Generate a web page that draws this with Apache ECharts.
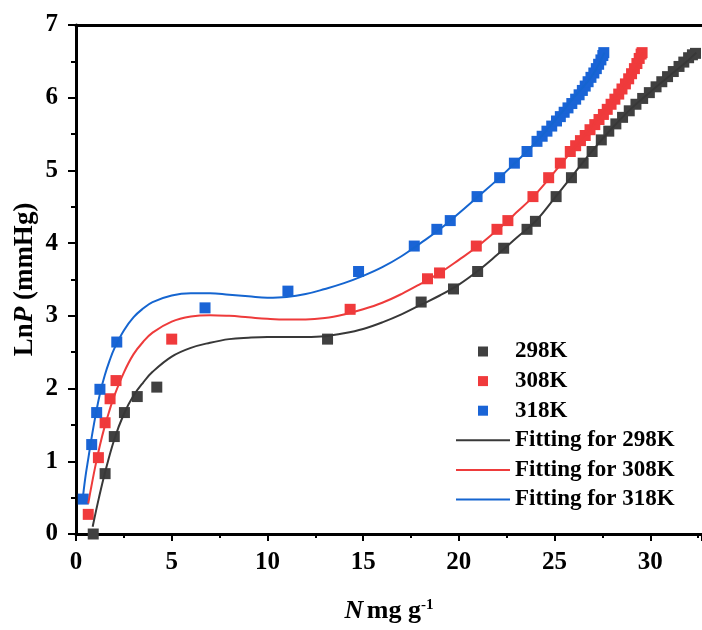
<!DOCTYPE html>
<html>
<head>
<meta charset="utf-8">
<script src="https://cdn.jsdelivr.net/npm/echarts@6/dist/echarts.min.js"></script>
<style>html,body{margin:0;padding:0;background:#fff;}#c{width:702px;height:630px;}</style>
</head>
<body>
<div id="c"></div>
<script>
// Experimental points
const n298 = [0.9,1.52,2.0,2.53,3.2,4.22,13.14,18.03,19.72,20.98,22.34,23.56,24.0,25.08,25.88,26.49,26.96,27.44,27.83,28.2,28.55,28.9,29.25,29.6,29.95,30.3,30.6,30.9,31.2,31.5,31.75,32.0,32.2,32.36];
const lnp298 = [0.0,0.83,1.34,1.67,1.89,2.02,2.68,3.19,3.37,3.61,3.93,4.19,4.30,4.64,4.90,5.10,5.26,5.42,5.54,5.64,5.73,5.82,5.91,5.99,6.07,6.15,6.22,6.29,6.36,6.43,6.49,6.55,6.59,6.61];
const n308 = [0.64,1.17,1.52,1.78,2.09,5.0,14.32,18.36,18.99,20.91,21.99,22.56,23.87,24.69,25.3,25.82,26.1,26.35,26.6,26.85,27.1,27.32,27.55,27.75,27.95,28.15,28.35,28.52,28.7,28.87,29.02,29.17,29.3,29.42,29.52,29.57];
const lnp308 = [0.27,1.05,1.53,1.86,2.11,2.68,3.09,3.51,3.59,3.96,4.19,4.31,4.64,4.90,5.10,5.26,5.34,5.41,5.48,5.56,5.63,5.70,5.77,5.84,5.91,5.98,6.05,6.12,6.19,6.26,6.33,6.40,6.47,6.54,6.60,6.62];
const n318 = [0.38,0.82,1.08,1.25,2.13,6.74,11.07,14.76,17.67,18.85,19.55,20.95,22.13,22.9,23.56,24.08,24.35,24.6,24.85,25.1,25.3,25.5,25.7,25.9,26.1,26.28,26.45,26.6,26.75,26.9,27.05,27.18,27.3,27.42,27.52,27.57];
const lnp318 = [0.48,1.23,1.67,1.99,2.64,3.11,3.34,3.61,3.96,4.19,4.31,4.64,4.90,5.10,5.26,5.40,5.47,5.54,5.61,5.68,5.74,5.80,5.86,5.92,5.98,6.04,6.10,6.16,6.22,6.28,6.34,6.40,6.46,6.52,6.58,6.62];

// Fitting curves
const fitN298 = [0.87,1.2,1.52,2.0,2.5,3.0,3.5,4.0,5,6,7,8,9,10,11,12,13,14,15,16,17,18,19,20,21,22,23,24,25,26,27,28,29,30,31,32,32.4];
const fitL298 = [0.1,0.5,0.85,1.3,1.65,1.9,2.08,2.23,2.44,2.56,2.63,2.68,2.70,2.71,2.71,2.71,2.72,2.76,2.82,2.91,3.02,3.15,3.28,3.43,3.62,3.84,4.07,4.30,4.62,4.95,5.28,5.58,5.85,6.08,6.3,6.52,6.62];
const fitN308 = [0.64,0.8,1.0,1.25,1.5,1.75,2.0,2.5,3,3.5,4,5,6,7,8,9,10,11,12,13,14,15,16,17,18,19,20,21,22,23,24,25,26,27,28,29,29.6];
const fitL308 = [0.42,0.65,0.92,1.22,1.48,1.7,1.9,2.22,2.47,2.64,2.77,2.92,2.99,3.01,3.0,2.98,2.96,2.95,2.95,2.97,3.02,3.09,3.18,3.3,3.44,3.59,3.77,3.96,4.18,4.42,4.67,4.98,5.3,5.62,5.95,6.3,6.62];
const fitN318 = [0.38,0.5,0.65,0.8,1.0,1.25,1.5,1.75,2.0,2.5,3,3.5,4,5,6,7,8,9,10,11,12,13,14,15,16,17,18,19,20,21,22,23,24,25,26,27,27.6];
const fitL318 = [0.55,0.8,1.05,1.3,1.6,1.93,2.18,2.38,2.55,2.8,2.98,3.1,3.19,3.28,3.31,3.31,3.29,3.27,3.25,3.26,3.3,3.37,3.45,3.55,3.67,3.82,4.0,4.19,4.41,4.64,4.87,5.12,5.38,5.68,6.0,6.32,6.62];

const names = ['298K','308K','318K'];
const fitNames = ['Fitting for 298K','Fitting for 308K','Fitting for 318K'];
const markColors = ['#404040','#f03a3c','#1a64d6'];
const lineColors = ['#383838','#ee3b3b','#1565d0'];

const zip = (a,b) => a.map((v,i)=>[v,b[i]]);
const pts = [zip(n298,lnp298), zip(n308,lnp308), zip(n318,lnp318)];
const fits = [zip(fitN298,fitL298), zip(fitN308,fitL308), zip(fitN318,fitL318)];

const FONT = '"Liberation Serif","Times New Roman",serif';
const chart = echarts.init(document.getElementById('c'), null, {renderer:'canvas'});

const series = [];
for (let i=0;i<3;i++){
  series.push({name:names[i], type:'scatter', data:pts[i], symbol:'rect', symbolSize:11,
    itemStyle:{color:markColors[i], opacity:1}, z:2});
}
for (let i=0;i<3;i++){
  series.push({name:fitNames[i], type:'line', data:fits[i], smooth:0.4, symbol:'none', showSymbol:false,
    lineStyle:{color:lineColors[i], width:2}, itemStyle:{color:lineColors[i]}, z:3});
}

const SQ = 'path://M0,0L10,0L10,10L0,10Z';
const LN = 'path://M0,0L54,0L54,2L0,2Z';
chart.setOption({
  animation:false,
  backgroundColor:'#ffffff',
  grid:{left:76, top:25, right:0, bottom:96, containLabel:false},
  legend:{
    orient:'vertical', left:451, top:335, itemWidth:54, itemHeight:10, itemGap:6.6,
    symbolKeepAspect:true,
    textStyle:{fontFamily:FONT, fontWeight:'bold', fontSize:23, color:'#000', lineHeight:22},
    data:[
      {name:'298K', icon:SQ},{name:'308K', icon:SQ},{name:'318K', icon:SQ},
      {name:'Fitting for 298K', icon:LN},{name:'Fitting for 308K', icon:LN},{name:'Fitting for 318K', icon:LN}
    ]
  },
  xAxis:[{
    type:'value', min:0, max:32.7, interval:5,
    name:'{i|N} {r|mg g}{s|-1}', nameLocation:'middle', nameGap:64, nameMoveOverlap:false,
    nameTextStyle:{rich:{
      i:{fontFamily:FONT, fontStyle:'italic', fontWeight:'bold', fontSize:26, color:'#000'},
      r:{fontFamily:FONT, fontWeight:'bold', fontSize:26, color:'#000'},
      s:{fontFamily:FONT, fontWeight:'bold', fontSize:15, color:'#000', verticalAlign:'top', padding:[0,0,12,0]}
    }},
    axisLine:{show:true, onZero:false, lineStyle:{color:'#000', width:3}},
    axisTick:{show:true, inside:false, length:7, lineStyle:{color:'#000', width:2}},
    minorTick:{show:true, splitNumber:2, length:4, lineStyle:{color:'#000', width:2}},
    axisLabel:{fontFamily:FONT, fontWeight:'bold', fontSize:25, color:'#000', margin:16, showMaxLabel:false},
    splitLine:{show:false}
  },{
    type:'value', position:'top', min:0, max:32.7,
    axisLine:{show:true, onZero:false, lineStyle:{color:'#000', width:3}},
    axisTick:{show:false}, axisLabel:{show:false}, splitLine:{show:false}
  }],
  yAxis:{
    type:'value', min:0, max:7, interval:1,
    name:'{r|Ln}{i|P}{r| (mmHg)}', nameLocation:'middle', nameGap:37, nameMoveOverlap:false,
    nameTextStyle:{rich:{
      i:{fontFamily:FONT, fontStyle:'italic', fontWeight:'bold', fontSize:27, color:'#000'},
      r:{fontFamily:FONT, fontWeight:'bold', fontSize:27, color:'#000'}
    }},
    axisLine:{show:true, onZero:false, lineStyle:{color:'#000', width:3}},
    axisTick:{show:true, inside:false, length:8, lineStyle:{color:'#000', width:2}},
    minorTick:{show:true, splitNumber:2, length:5, lineStyle:{color:'#000', width:2}},
    axisLabel:{fontFamily:FONT, fontWeight:'bold', fontSize:25, color:'#000', margin:18},
    splitLine:{show:false}
  },
  series:series
});
</script>
</body>
</html>
